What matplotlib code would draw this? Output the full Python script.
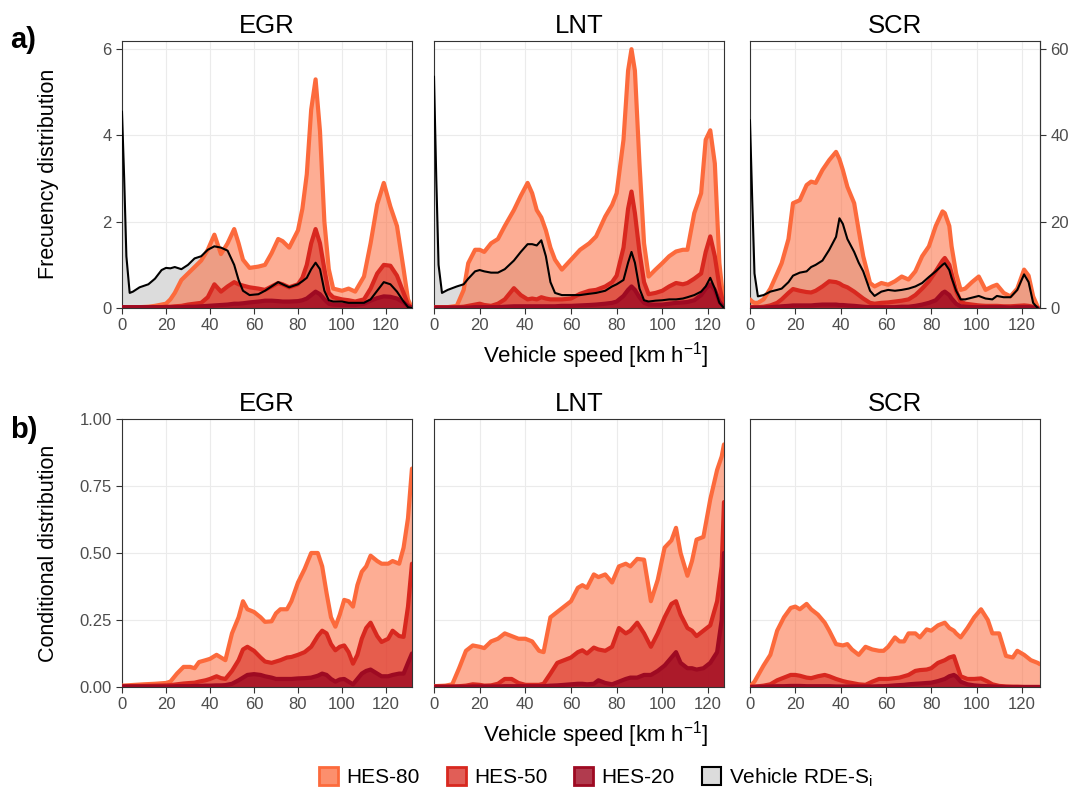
import numpy as np
import matplotlib.pyplot as plt
from matplotlib.patches import Patch
from matplotlib.colors import to_rgb

plt.rcParams['font.family'] = ['Liberation Sans', 'DejaVu Sans']
plt.rcParams['mathtext.fontset'] = 'custom'
plt.rcParams['mathtext.rm'] = 'Liberation Sans'

# ---- a) frequency distribution (left axis units, right axis = x10) ----
egr_a_x = [0, 1, 2, 3.5, 5, 8, 12, 15, 18, 20, 22, 24, 27, 30, 33, 36, 39, 42, 45, 48, 51, 53, 55, 58,
           62, 65, 68, 71, 73, 76, 80, 82, 84, 86, 88, 90, 92, 94, 96, 100, 103, 106, 110, 113, 116,
           119, 122, 125, 128, 130, 131.5]
egr_a_h80 = [0.02, 0.02, 0.02, 0.02, 0.02, 0.02, 0.03, 0.05, 0.08, 0.1, 0.2, 0.35, 0.65, 0.8, 0.95, 1.1,
             1.35, 1.7, 1.25, 1.5, 1.83, 1.5, 1.12, 0.93, 0.96, 1.0, 1.27, 1.6, 1.55, 1.4, 1.8, 2.3, 3.1,
             4.6, 5.3, 4.1, 2.0, 0.9, 0.45, 0.4, 0.45, 0.38, 0.73, 1.5, 2.4, 2.9, 2.35, 1.9, 0.9, 0.2, 0.03]
egr_a_h50 = [0.02, 0.02, 0.02, 0.02, 0.02, 0.02, 0.02, 0.02, 0.02, 0.03, 0.03, 0.04, 0.05, 0.08, 0.1, 0.12,
             0.25, 0.55, 0.38, 0.5, 0.6, 0.55, 0.52, 0.48, 0.45, 0.42, 0.5, 0.58, 0.55, 0.48, 0.55, 0.7, 1.0,
             1.5, 1.83, 1.5, 0.9, 0.35, 0.25, 0.2, 0.18, 0.15, 0.2, 0.45, 0.8, 1.0, 0.98, 0.75, 0.35, 0.08, 0.02]
egr_a_h20 = [0.02, 0.02, 0.02, 0.02, 0.02, 0.02, 0.02, 0.02, 0.02, 0.02, 0.02, 0.02, 0.02, 0.03, 0.03, 0.04,
             0.05, 0.06, 0.07, 0.08, 0.1, 0.1, 0.11, 0.13, 0.15, 0.17, 0.17, 0.16, 0.15, 0.15, 0.16, 0.18, 0.22,
             0.3, 0.38, 0.32, 0.2, 0.1, 0.08, 0.07, 0.07, 0.07, 0.1, 0.17, 0.23, 0.27, 0.26, 0.22, 0.13, 0.04, 0.01]
egr_a_veh = [4.55, 3.0, 1.2, 0.35, 0.38, 0.48, 0.55, 0.68, 0.88, 0.93, 0.92, 0.95, 0.9, 1.0, 1.15, 1.2,
             1.35, 1.43, 1.4, 1.33, 1.0, 0.65, 0.4, 0.3, 0.32, 0.4, 0.5, 0.6, 0.55, 0.48, 0.55, 0.62, 0.7,
             0.9, 1.05, 0.9, 0.4, 0.18, 0.15, 0.15, 0.12, 0.12, 0.12, 0.2, 0.4, 0.6, 0.55, 0.38, 0.15, 0.02, 0.0]

lnt_a_x = [0, 1, 2, 3.5, 6, 10, 13, 15, 18, 20, 22, 25, 28, 31, 35, 38, 41, 43, 45, 47, 49, 51, 53, 56,
           60, 64, 68, 71, 75, 78, 80, 83, 85, 86.5, 88, 90, 92, 94, 97, 100, 103, 106, 109, 111, 114,
           117, 119, 121, 123, 125, 127]
lnt_a_h80 = [0.02, 0.02, 0.02, 0.02, 0.02, 0.05, 0.42, 1.04, 1.35, 1.35, 1.3, 1.5, 1.6, 1.9, 2.27, 2.6, 2.9,
             2.66, 2.27, 2.1, 1.8, 1.4, 1.12, 0.89, 1.12, 1.35, 1.5, 1.66, 2.12, 2.39, 2.66, 3.9, 5.5, 6.0,
             5.5, 3.35, 1.5, 0.73, 0.89, 1.04, 1.2, 1.31, 1.35, 1.35, 2.2, 2.66, 3.9, 4.12, 3.35, 1.04, 0.04]
lnt_a_h50 = [0.02, 0.02, 0.02, 0.02, 0.02, 0.02, 0.03, 0.05, 0.08, 0.1, 0.07, 0.05, 0.1, 0.2, 0.46, 0.3, 0.2,
             0.22, 0.2, 0.25, 0.22, 0.2, 0.2, 0.2, 0.22, 0.33, 0.4, 0.42, 0.5, 0.6, 0.75, 1.4, 2.3, 2.7,
             2.2, 1.3, 0.6, 0.32, 0.35, 0.4, 0.5, 0.58, 0.55, 0.58, 0.68, 0.8, 1.3, 1.66, 1.2, 0.5, 0.03]
lnt_a_h20 = [0.01, 0.01, 0.01, 0.01, 0.01, 0.01, 0.01, 0.01, 0.02, 0.02, 0.02, 0.02, 0.02, 0.03, 0.04, 0.04,
             0.04, 0.04, 0.04, 0.04, 0.04, 0.04, 0.04, 0.05, 0.05, 0.06, 0.07, 0.08, 0.1, 0.12, 0.15, 0.28,
             0.42, 0.5, 0.42, 0.25, 0.12, 0.08, 0.08, 0.08, 0.1, 0.12, 0.13, 0.14, 0.18, 0.3, 0.45, 0.55,
             0.42, 0.15, 0.01]
lnt_a_veh = [5.36, 3.0, 1.0, 0.35, 0.42, 0.5, 0.55, 0.68, 0.85, 0.88, 0.85, 0.82, 0.82, 0.9, 1.1, 1.3, 1.48,
             1.48, 1.45, 1.57, 1.2, 0.6, 0.35, 0.3, 0.3, 0.3, 0.33, 0.35, 0.4, 0.5, 0.55, 0.65, 1.05, 1.3,
             1.05, 0.45, 0.18, 0.15, 0.17, 0.18, 0.2, 0.2, 0.22, 0.25, 0.3, 0.38, 0.5, 0.7, 0.45, 0.12, 0.0]

scr_a_x = [0, 1, 2, 3.5, 6, 9, 12, 14, 17, 19, 22, 25, 27, 29, 32, 35, 38, 39.5, 41, 43, 46, 48, 50, 53,
           55, 58, 61, 64, 67, 70, 73, 76, 79, 82, 85, 86, 88, 89, 91, 93, 95, 98, 101, 104, 107, 109,
           112, 115, 118, 121, 123, 125, 127]
scr_a_h80 = [0.2, 0.15, 0.12, 0.12, 0.2, 0.45, 0.8, 1.04, 1.6, 2.43, 2.5, 2.85, 2.93, 2.9, 3.2, 3.43, 3.62,
             3.45, 3.2, 2.81, 2.43, 1.8, 1.2, 0.58, 0.5, 0.58, 0.54, 0.62, 0.73, 0.66, 0.85, 1.2, 1.43, 1.9,
             2.24, 2.2, 1.9, 1.43, 0.8, 0.42, 0.45, 0.6, 0.73, 0.42, 0.5, 0.54, 0.35, 0.27, 0.45, 0.89,
             0.75, 0.27, 0.03]
scr_a_h50 = [0.02, 0.02, 0.02, 0.02, 0.03, 0.06, 0.12, 0.2, 0.35, 0.44, 0.4, 0.37, 0.36, 0.4, 0.5, 0.62, 0.6,
             0.57, 0.52, 0.48, 0.38, 0.3, 0.22, 0.12, 0.1, 0.12, 0.13, 0.15, 0.17, 0.2, 0.3, 0.45, 0.62,
             0.85, 1.1, 1.16, 1.0, 0.8, 0.4, 0.15, 0.1, 0.08, 0.06, 0.05, 0.05, 0.05, 0.04, 0.04, 0.05,
             0.06, 0.05, 0.03, 0.01]
scr_a_h20 = [0.01, 0.01, 0.01, 0.01, 0.01, 0.02, 0.03, 0.04, 0.05, 0.06, 0.06, 0.06, 0.06, 0.07, 0.08, 0.08,
             0.08, 0.07, 0.07, 0.06, 0.05, 0.04, 0.03, 0.02, 0.02, 0.02, 0.02, 0.02, 0.03, 0.03, 0.05, 0.08,
             0.12, 0.18, 0.35, 0.38, 0.3, 0.22, 0.1, 0.04, 0.03, 0.02, 0.02, 0.02, 0.02, 0.02, 0.02, 0.01,
             0.02, 0.02, 0.02, 0.01, 0.0]
scr_a_veh = [4.35, 2.5, 0.8, 0.27, 0.3, 0.38, 0.42, 0.45, 0.6, 0.75, 0.82, 0.85, 0.95, 1.0, 1.1, 1.35, 1.65,
             2.08, 1.95, 1.6, 1.3, 1.05, 0.85, 0.4, 0.28, 0.38, 0.42, 0.4, 0.42, 0.45, 0.5, 0.58, 0.72,
             0.85, 1.0, 1.04, 0.88, 0.7, 0.4, 0.2, 0.2, 0.24, 0.28, 0.22, 0.2, 0.28, 0.25, 0.25, 0.42,
             0.78, 0.6, 0.12, 0.0]

# ---- b) conditional distribution ----
egr_b_x = [0, 10, 15, 20, 22, 25, 28, 31, 33, 35, 38, 40, 43, 45, 47, 50, 53, 55, 57, 60, 63, 65, 68, 70,
           72, 75, 77, 80, 83, 86, 89, 91, 93, 95, 97, 99, 101, 103, 105, 107, 109, 111, 113, 116, 118,
           121, 123, 126, 128, 130, 131.8]
egr_b_h80 = [0.005, 0.01, 0.012, 0.015, 0.02, 0.05, 0.075, 0.075, 0.07, 0.093, 0.1, 0.105, 0.12, 0.11, 0.1,
             0.2, 0.26, 0.32, 0.29, 0.28, 0.26, 0.243, 0.245, 0.275, 0.29, 0.29, 0.32, 0.39, 0.44, 0.5, 0.5,
             0.45, 0.35, 0.26, 0.225, 0.27, 0.325, 0.32, 0.3, 0.38, 0.43, 0.45, 0.49, 0.47, 0.46, 0.46,
             0.47, 0.46, 0.52, 0.63, 0.815]
egr_b_h50 = [0.003, 0.004, 0.005, 0.006, 0.007, 0.01, 0.013, 0.015, 0.016, 0.02, 0.025, 0.03, 0.04, 0.033,
             0.03, 0.06, 0.1, 0.14, 0.15, 0.135, 0.11, 0.095, 0.09, 0.095, 0.1, 0.11, 0.112, 0.12, 0.13,
             0.15, 0.19, 0.21, 0.2, 0.16, 0.137, 0.15, 0.155, 0.13, 0.087, 0.12, 0.18, 0.22, 0.24, 0.19,
             0.168, 0.18, 0.21, 0.19, 0.187, 0.3, 0.46]
egr_b_h20 = [0.002, 0.002, 0.002, 0.002, 0.002, 0.003, 0.003, 0.003, 0.004, 0.004, 0.005, 0.005, 0.006,
             0.006, 0.007, 0.012, 0.025, 0.035, 0.045, 0.048, 0.045, 0.04, 0.035, 0.03, 0.03, 0.03, 0.03,
             0.032, 0.033, 0.035, 0.042, 0.05, 0.045, 0.03, 0.02, 0.028, 0.03, 0.02, 0.01, 0.03, 0.05,
             0.06, 0.065, 0.05, 0.04, 0.04, 0.045, 0.05, 0.05, 0.09, 0.125]

lnt_b_x = [0, 5, 8, 11, 14, 17, 20, 22, 25, 28, 31, 34, 37, 40, 43, 46, 48, 51, 54, 57, 60, 63, 65, 67,
           70, 72, 75, 78, 81, 84, 86, 89, 92, 95, 98, 101, 104, 106, 108, 111, 113, 115, 118, 121, 124,
           126, 127]
lnt_b_h80 = [0.003, 0.005, 0.01, 0.07, 0.135, 0.155, 0.15, 0.145, 0.17, 0.18, 0.2, 0.19, 0.18, 0.18, 0.17,
             0.135, 0.13, 0.26, 0.28, 0.3, 0.32, 0.37, 0.38, 0.37, 0.42, 0.41, 0.42, 0.39, 0.45, 0.46, 0.45,
             0.478, 0.475, 0.32, 0.4, 0.52, 0.547, 0.594, 0.5, 0.415, 0.47, 0.55, 0.56, 0.7, 0.81, 0.86, 0.905]
lnt_b_h50 = [0.002, 0.002, 0.002, 0.003, 0.005, 0.01, 0.008, 0.005, 0.006, 0.012, 0.03, 0.03, 0.015, 0.008,
             0.008, 0.008, 0.012, 0.05, 0.09, 0.1, 0.11, 0.13, 0.137, 0.125, 0.147, 0.14, 0.135, 0.15, 0.22,
             0.2, 0.21, 0.24, 0.2, 0.15, 0.2, 0.26, 0.31, 0.32, 0.27, 0.22, 0.21, 0.19, 0.21, 0.23, 0.32,
             0.45, 0.69]
lnt_b_h20 = [0.001, 0.001, 0.001, 0.001, 0.001, 0.002, 0.002, 0.002, 0.002, 0.002, 0.003, 0.003, 0.003,
             0.003, 0.003, 0.003, 0.003, 0.005, 0.006, 0.008, 0.01, 0.012, 0.012, 0.01, 0.012, 0.025, 0.015,
             0.01, 0.02, 0.03, 0.035, 0.035, 0.045, 0.045, 0.06, 0.08, 0.11, 0.13, 0.09, 0.07, 0.07, 0.065,
             0.07, 0.09, 0.13, 0.25, 0.5]

scr_b_x = [0, 2, 4, 6, 9, 12, 15, 18, 20, 22, 25, 27, 30, 33, 35, 38, 41, 43, 45, 48, 51, 54, 57, 59, 61,
           64, 66, 68, 70, 73, 75, 78, 80, 83, 86, 88, 90, 91, 93, 96, 99, 102, 105, 107, 110, 113, 116,
           118, 121, 124, 127, 128]
scr_b_h80 = [0.002, 0.02, 0.05, 0.08, 0.12, 0.21, 0.26, 0.295, 0.3, 0.29, 0.31, 0.29, 0.27, 0.24, 0.21,
             0.16, 0.155, 0.16, 0.14, 0.12, 0.15, 0.14, 0.135, 0.135, 0.15, 0.185, 0.17, 0.17, 0.2, 0.2,
             0.185, 0.215, 0.21, 0.23, 0.24, 0.22, 0.21, 0.2, 0.185, 0.22, 0.26, 0.29, 0.25, 0.2, 0.2,
             0.116, 0.11, 0.135, 0.12, 0.1, 0.09, 0.085]
scr_b_h50 = [0.001, 0.002, 0.003, 0.005, 0.01, 0.025, 0.035, 0.045, 0.045, 0.042, 0.035, 0.033, 0.04, 0.045,
             0.04, 0.03, 0.022, 0.018, 0.015, 0.01, 0.008, 0.02, 0.03, 0.03, 0.03, 0.033, 0.035, 0.04,
             0.045, 0.06, 0.063, 0.065, 0.07, 0.09, 0.1, 0.11, 0.115, 0.09, 0.04, 0.03, 0.03, 0.032, 0.02,
             0.01, 0.004, 0.002, 0.001, 0.001, 0.0, 0.0, 0.0, 0.0]
scr_b_h20 = [0.0, 0.0, 0.001, 0.001, 0.002, 0.003, 0.003, 0.004, 0.004, 0.004, 0.003, 0.003, 0.003, 0.003,
             0.003, 0.002, 0.002, 0.002, 0.002, 0.002, 0.002, 0.002, 0.003, 0.003, 0.004, 0.006, 0.007,
             0.008, 0.01, 0.012, 0.013, 0.015, 0.016, 0.022, 0.03, 0.04, 0.045, 0.04, 0.02, 0.01, 0.006,
             0.004, 0.003, 0.002, 0.001, 0.0, 0.0, 0.0, 0.0, 0.0, 0.0, 0.0]

titles = ['EGR', 'LNT', 'SCR']
x_max = [131.8, 127, 128]
top_data = [(egr_a_x, egr_a_h80, egr_a_h50, egr_a_h20, egr_a_veh),
            (lnt_a_x, lnt_a_h80, lnt_a_h50, lnt_a_h20, lnt_a_veh),
            (scr_a_x, scr_a_h80, scr_a_h50, scr_a_h20, scr_a_veh)]
bot_data = [(egr_b_x, egr_b_h80, egr_b_h50, egr_b_h20),
            (lnt_b_x, lnt_b_h80, lnt_b_h50, lnt_b_h20),
            (scr_b_x, scr_b_h80, scr_b_h50, scr_b_h20)]

labels = ['HES-80', 'HES-50', 'HES-20']
line_cols = ['#FC6A3C', '#D8281F', '#9E0A22']
fill_alpha = [0.55, 0.6, 0.8]
veh_fill = '#DCDCDC'
grey_txt = '#4D4D4D'

fig = plt.figure(figsize=(10.7, 7.91), dpi=100)
lefts = [0.1140, 0.4056, 0.7009]
width = 0.2710


def style_axes(ax, xmax):
    ax.set_xlim(0, xmax)
    ax.set_xticks([0, 20, 40, 60, 80, 100, 120])
    ax.grid(True, color='#EBEBEB', lw=0.8)
    ax.set_axisbelow(True)
    for s in ax.spines.values():
        s.set_color('#333333')
        s.set_linewidth(0.8)
    ax.tick_params(colors='#333333', labelcolor=grey_txt, labelsize=12, length=4, width=0.8)


def draw_hes(ax, x, series):
    for y, c, a in zip(series, line_cols, fill_alpha):
        ax.fill_between(x, 0, y, color=c, alpha=a, lw=0, zorder=2)
        ax.plot(x, y, color=c, lw=3.0, zorder=3, solid_capstyle='round', solid_joinstyle='round')


for i in range(3):
    x, h80, h50, h20, veh = top_data[i]
    ax = fig.add_axes([lefts[i], 0.6106, width, 0.3376])
    style_axes(ax, x_max[i])
    ax.set_ylim(0, 6.19)
    ax.set_yticks([0, 2, 4, 6])
    ax.fill_between(x, 0, veh, color=veh_fill, lw=0, zorder=1.5)
    draw_hes(ax, x, [h80, h50, h20])
    ax.plot(x, veh, color='black', lw=1.5, zorder=4, solid_joinstyle='round')
    ax.set_title(titles[i], fontsize=18.5, pad=6)
    if i > 0:
        ax.tick_params(axis='y', left=False, labelleft=False)
    if i == 2:
        sec = ax.secondary_yaxis('right', functions=(lambda v: v * 10, lambda v: v / 10))
        sec.set_yticks([0, 20, 40, 60])
        sec.tick_params(colors='#333333', labelcolor=grey_txt, labelsize=12, length=4, width=0.8)
        sec.spines['right'].set_color('#333333')

    x, h80, h50, h20 = bot_data[i]
    ax = fig.add_axes([lefts[i], 0.1315, width, 0.3388])
    style_axes(ax, x_max[i])
    ax.set_ylim(0, 1.0)
    ax.set_yticks([0, 0.25, 0.5, 0.75, 1.0])
    ax.set_yticklabels(['0.00', '0.25', '0.50', '0.75', '1.00'])
    draw_hes(ax, x, [h80, h50, h20])
    ax.set_title(titles[i], fontsize=18.5, pad=6)
    if i > 0:
        ax.tick_params(axis='y', left=False, labelleft=False)

fig.text(0.045, 0.78, 'Frecuency distribution', rotation=90, ha='center', va='center', fontsize=15.5)
fig.text(0.045, 0.30, 'Conditional distribution', rotation=90, ha='center', va='center', fontsize=15.5)
fig.text(0.557, 0.551, r'Vehicle speed [km h$^{\mathregular{-1}}$]', ha='center', va='center', fontsize=16)
fig.text(0.557, 0.071, r'Vehicle speed [km h$^{\mathregular{-1}}$]', ha='center', va='center', fontsize=16)
fig.text(0.009, 0.95, 'a)', fontsize=21, fontweight='bold', va='center')
fig.text(0.009, 0.456, 'b)', fontsize=21, fontweight='bold', va='center')

handles = [Patch(facecolor=(*to_rgb(c), a), edgecolor=c, lw=2)
           for c, a in zip(line_cols, [0.75, 0.75, 0.8])]
handles.append(Patch(facecolor=veh_fill, edgecolor='black', lw=1.5))
fig.legend(handles, labels + [r'Vehicle RDE-S$_{\mathregular{i}}$'], loc='center', ncol=4,
           bbox_to_anchor=(0.557, 0.017), frameon=False, fontsize=15, handlelength=0.9,
           handleheight=0.9, handletextpad=0.4, columnspacing=1.3)

fig.savefig('out.png', dpi=100)
